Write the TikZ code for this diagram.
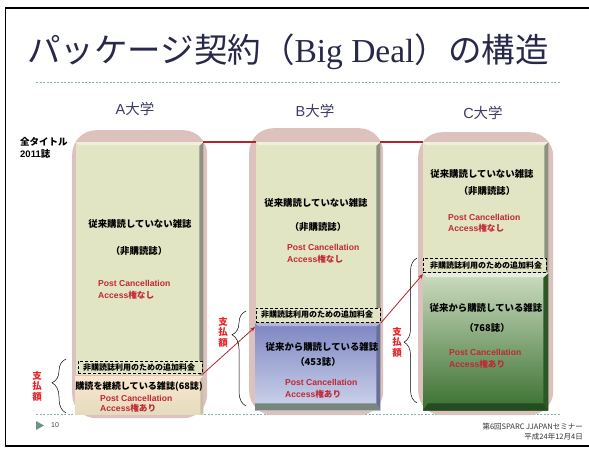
\documentclass[tikz,border=0pt]{standalone}
\usepackage{fontspec}
\setmainfont{Liberation Sans}
\newfontfamily\jp{Noto Sans CJK JP}
\newfontfamily\latser{Liberation Serif}
\usetikzlibrary{decorations.pathreplacing,arrows.meta}
\definecolor{pinkbg}{RGB}{220,193,189}
\definecolor{greenbg}{RGB}{226,229,196}
\definecolor{greenbev}{RGB}{140,145,128}
\definecolor{titlecol}{RGB}{40,40,75}
\definecolor{labcol}{RGB}{60,60,100}
\definecolor{linered}{RGB}{180,36,46}
\definecolor{pcred}{RGB}{192,40,52}
\definecolor{payred}{RGB}{236,32,36}
\definecolor{dotcol}{RGB}{140,176,172}
\definecolor{trcol}{RGB}{110,145,138}
\definecolor{beigetop}{RGB}{250,230,206}
\definecolor{beigebot}{RGB}{228,220,190}
\definecolor{bluetop}{RGB}{125,134,194}
\definecolor{bluebot}{RGB}{206,213,236}
\definecolor{bluebev}{RGB}{105,112,150}
\definecolor{gtop}{RGB}{204,220,192}
\definecolor{gbot}{RGB}{58,112,48}
\definecolor{gbev}{RGB}{44,88,40}
\definecolor{graybev}{RGB}{120,135,125}
\tikzset{
  pinkcol/.style={fill=pinkbg, draw=none, rounded corners=24pt, inner sep=0pt, anchor=north west},
  boxnode/.style={draw=none, inner sep=0pt, anchor=north west},
  dashbox/.style={draw=black, fill=greenbg, line width=0.9pt, dash pattern=on 3pt off 2pt, inner sep=0pt, anchor=north west},
  jpb/.style={font=\jp\bfseries\fontsize{9.4}{11}\selectfont, inner sep=0pt},
  jps/.style={font=\jp\bfseries\fontsize{8}{9}\selectfont, inner sep=0pt},
  pcnote/.style={font=\bfseries\fontsize{8.6}{12}\selectfont, align=left, text=pcred, inner sep=0pt, anchor=west},
  paylab/.style={font=\jp\bfseries\fontsize{9.5}{10.5}\selectfont, align=center, text=payred, inner sep=0pt},
  unilab/.style={font=\fontsize{14.5}{16}\selectfont, text=labcol, inner sep=0pt},
  redline/.style={draw=linered, line width=1.6pt},
  redarrow/.style={draw=linered, line width=0.8pt, -{Stealth[length=5pt,width=4pt]}},
  bracestyle/.style={draw=black, line width=0.5pt, decorate},
  dotline/.style={draw=dotcol, line width=0.7pt, dash pattern=on 2pt off 1.5pt}
}
\begin{document}
\begin{tikzpicture}[x=1pt,y=-1pt]
\useasboundingbox (0,0) rectangle (589,448);
\fill[white] (0,0) rectangle (589,448);
% slide frame
\draw[black, line width=1.5pt] (589,8) -- (5.5,8) -- (5.5,446) -- (589,446);
% title
\node[anchor=west, inner sep=0pt, text=titlecol, font=\fontsize{33.5}{37}\selectfont] (title) at (27,52)
  {{\jp パッケージ契約（}{\latser Big Deal}{\jp ）の構造}};
\draw[dotline] (36,82) -- (560,82);
\draw[dotline] (36,414) -- (560,414);
% university labels
\node[unilab] (labA) at (135,109) {A{\jp 大学}};
\node[unilab] (labB) at (315,111) {B{\jp 大学}};
\node[unilab] (labC) at (483,113) {C{\jp 大学}};
% all titles
\node[anchor=west, align=left, inner sep=0pt, font=\bfseries\fontsize{9.5}{12}\selectfont] (alltitles) at (20,148)
  {{\jp 全タイトル}\\2011{\jp 誌}};
% pink backgrounds
\node[pinkcol, minimum width=135pt, minimum height=288pt] (pA) at (72,130) {};
\node[pinkcol, minimum width=134pt, minimum height=287pt] (pB) at (249,128) {};
\node[pinkcol, minimum width=135pt, minimum height=283pt] (pC) at (418,132) {};
% ---- column A
\node[boxnode, fill=greenbg, minimum width=127pt, minimum height=233pt] (gA) at (76,142) {};
\fill[greenbev] ([xshift=-4pt,yshift=-4pt]gA.north east) -- (gA.north east) -- (gA.south east) -- ([xshift=-4pt]gA.south east) -- cycle;
\fill[white!40!greenbg] (gA.north west) -- (gA.north east) -- ([xshift=-4pt,yshift=-3pt]gA.north east) -- ([xshift=3pt,yshift=-3pt]gA.north west) -- cycle;
\node[boxnode, top color=beigetop, bottom color=beigebot, minimum width=128pt, minimum height=38pt] (bA) at (75,376) {};
\fill[beigebot!70!gray] ([xshift=-3pt,yshift=-3pt]bA.north east) -- (bA.north east) -- (bA.south east) -- ([xshift=-3pt]bA.south east) -- cycle;
\node[dashbox, minimum width=124pt, minimum height=12pt] (dA) at (78,361) {};
\node[jpb] (tA1) at (140,224) {従来購読していない雑誌};
\node[jpb] (tA2) at (139,251) {（非購読誌）};
\node[pcnote] (tA3) at (98,289.5) {Post Cancellation\\Access{\jp 権なし}};
\node[jps] (tA4) at (139,367) {非購読誌利用のための追加料金};
\node[jpb, font=\jp\bfseries\fontsize{9.1}{11}\selectfont] (tA5) at (139,387) {購読を継続している雑誌(68誌)};
\node[pcnote, font=\bfseries\fontsize{8.6}{9.7}\selectfont] (tA6) at (100,403.5) {Post Cancellation\\Access{\jp 権あり}};
% ---- column B
\node[boxnode, fill=greenbg, minimum width=124pt, minimum height=180pt] (gB) at (256,142) {};
\fill[greenbev] ([xshift=-4pt,yshift=-4pt]gB.north east) -- (gB.north east) -- (gB.south east) -- ([xshift=-4pt]gB.south east) -- cycle;
\fill[white!40!greenbg] (gB.north west) -- (gB.north east) -- ([xshift=-4pt,yshift=-3pt]gB.north east) -- ([xshift=3pt,yshift=-3pt]gB.north west) -- cycle;
\node[boxnode, top color=bluetop, bottom color=bluebot, minimum width=125pt, minimum height=87pt] (bB) at (255,323) {};
\fill[bluebev] ([xshift=-4pt,yshift=-4pt]bB.north east) -- (bB.north east) -- (bB.south east) -- ([xshift=-4pt,yshift=7pt]bB.south east) -- cycle;
\fill[graybev] ([yshift=7pt]bB.south west) -- ([xshift=-4pt,yshift=7pt]bB.south east) -- (bB.south east) -- (bB.south west) -- cycle;
\fill[bluetop!60!white] (bB.north west) -- (bB.north east) -- ([xshift=-4pt,yshift=-3pt]bB.north east) -- ([xshift=3pt,yshift=-3pt]bB.north west) -- cycle;
\node[dashbox, minimum width=124pt, minimum height=14pt] (dB) at (256,308) {};
\node[jpb] (tB1) at (316,203) {従来購読していない雑誌};
\node[jpb] (tB2) at (318,227) {（非購読誌）};
\node[pcnote] (tB3) at (287,254) {Post Cancellation\\Access{\jp 権なし}};
\node[jps] (tB4) at (317,314.5) {非購読誌利用のための追加料金};
\node[jpb] (tB5) at (322,347) {従来から購読している雑誌};
\node[jpb] (tB6) at (318,362) {（453誌）};
\node[pcnote] (tB7) at (285,389) {Post Cancellation\\Access{\jp 権あり}};
% ---- column C
\node[boxnode, fill=greenbg, minimum width=125pt, minimum height=130pt] (gC) at (423,142) {};
\fill[greenbev] ([xshift=-4pt,yshift=-4pt]gC.north east) -- (gC.north east) -- (gC.south east) -- ([xshift=-4pt]gC.south east) -- cycle;
\fill[white!40!greenbg] (gC.north west) -- (gC.north east) -- ([xshift=-4pt,yshift=-3pt]gC.north east) -- ([xshift=3pt,yshift=-3pt]gC.north west) -- cycle;
\node[boxnode, top color=gtop, bottom color=gbot, minimum width=125pt, minimum height=137pt] (bC) at (423,273) {};
\fill[gbev] ([xshift=-5pt,yshift=-5pt]bC.north east) -- (bC.north east) -- (bC.south east) -- ([xshift=-5pt,yshift=7pt]bC.south east) -- cycle;
\fill[gbev!85!black] ([xshift=5pt,yshift=7pt]bC.south west) -- ([xshift=-5pt,yshift=7pt]bC.south east) -- (bC.south east) -- (bC.south west) -- cycle;
\fill[gtop!50!white] (bC.north west) -- (bC.north east) -- ([xshift=-5pt,yshift=-4pt]bC.north east) -- ([xshift=4pt,yshift=-4pt]bC.north west) -- cycle;
\node[dashbox, minimum width=123pt, minimum height=14pt] (dC) at (423,258) {};
\node[jpb] (tC1) at (482,174) {従来購読していない雑誌};
\node[jpb] (tC2) at (487,191) {（非購読誌）};
\node[pcnote, font=\bfseries\fontsize{8.6}{11}\selectfont] (tC3) at (448,223.5) {Post Cancellation\\Access{\jp 権なし}};
\node[jps] (tC4) at (486,265) {非購読誌利用のための追加料金};
\node[jpb] (tC5) at (486,308) {従来から購読している雑誌};
\node[jpb] (tC6) at (487,328) {（768誌）};
\node[pcnote] (tC7) at (449,359) {Post Cancellation\\Access{\jp 権あり}};
% ---- connectors
\draw[redline] (gA.north east) -- (gB.north west);
\draw[redline] (gB.north east) -- (gC.north west);
\draw[redarrow] (dA.south east) -- ([yshift=-4pt]bB.north west);
\draw[redarrow] (dB.south east) -- ([yshift=-1pt]bC.north west);
% braces
\coordinate (brAb) at (66,413);
\coordinate (brAt) at (66,359);
\coordinate (brBb) at (246,406);
\coordinate (brBt) at (246,311);
\coordinate (brCb) at (417,403);
\coordinate (brCt) at (417,258);
\draw[bracestyle, decoration={brace, amplitude=14pt, aspect=0.56}] (brAb) -- (brAt);
\draw[bracestyle, decoration={brace, amplitude=14pt, aspect=0.75}] (brBb) -- (brBt);
\draw[bracestyle, decoration={brace, amplitude=13pt, aspect=0.42}] (brCb) -- (brCt);
\node[paylab] (payA) at (37,386) {支\\払\\額};
\node[paylab] (payB) at (223,332) {支\\払\\額};
\node[paylab] (payC) at (397,342) {支\\払\\額};
% footer
\fill[trcol] (36,421) -- (44,425.5) -- (36,430) -- cycle;
\node[anchor=west, inner sep=0pt, text=black!75, font=\fontsize{7}{8}\selectfont] (pageno) at (51,425.5) {10};
\node[anchor=east, align=right, inner sep=0pt, text=black!80, font=\jp\fontsize{7.5}{10}\selectfont] (footer) at (583,432)
  {第6回SPARC JJAPANセミナー\\平成24年12月4日};
\end{tikzpicture}
\end{document}
